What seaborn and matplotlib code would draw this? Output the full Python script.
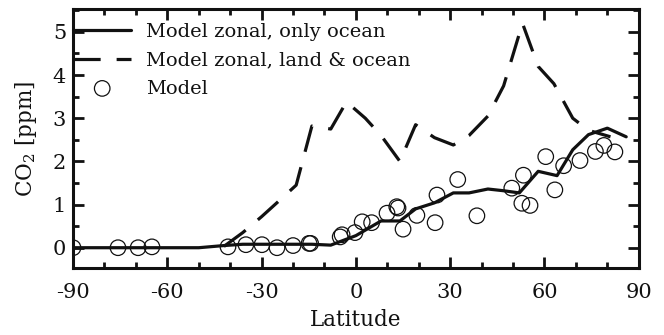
import matplotlib
matplotlib.use("Agg")
import matplotlib.pyplot as plt
import seaborn as sns
import pandas as pd
from matplotlib.ticker import MultipleLocator

# ---- data ----
ocean_lat = [-90, -50, -42, -36, -30, -25, -19, -14, -8, 0, 8, 14, 19, 25, 31, 36, 42, 47, 52, 58, 64, 69, 74, 80, 86]
ocean_co2 = [0.0, 0.0, 0.05, 0.08, 0.08, 0.08, 0.08, 0.08, 0.06, 0.28, 0.62, 0.62, 0.9, 1.04, 1.27, 1.27, 1.36, 1.32, 1.27, 1.77, 1.67, 2.27, 2.62, 2.77, 2.57]

land_lat = [-42, -36, -30, -25, -19, -14, -8, -3, 3, 8, 14, 19, 25, 31, 36, 42, 47, 53, 58, 63, 69, 74, 81]
land_co2 = [0.03, 0.35, 0.72, 1.05, 1.45, 2.82, 2.75, 3.38, 3.0, 2.6, 2.0, 2.85, 2.55, 2.38, 2.6, 3.05, 3.75, 5.2, 4.2, 3.8, 3.0, 2.72, 2.57]

model_lat = [-90, -75.7, -69.3, -64.9, -40.7, -35, -29.9, -25.1, -20, -14.9, -14.4,
             -5, -4.4, -0.3, 2, 5, 9.9, 13, 13.4, 15, 19.4, 25.2, 25.8, 32.4, 38.5,
             49.6, 53.3, 52.8, 55.4, 60.4, 63.3, 66.1, 71.3, 76.2, 78.9, 82.4]
model_co2 = [0.0, 0.0, 0.0, 0.02, 0.02, 0.07, 0.07, 0.0, 0.05, 0.1, 0.1,
             0.25, 0.3, 0.35, 0.6, 0.58, 0.8, 0.95, 0.92, 0.43, 0.75, 0.58, 1.22, 1.58, 0.74,
             1.38, 1.68, 1.03, 0.98, 2.11, 1.34, 1.9, 2.02, 2.23, 2.37, 2.22]

x_ticks = [-90, -60, -30, 0, 30, 60, 90]
y_ticks = [0, 1, 2, 3, 4, 5]

sns.set_style("ticks")
plt.rcParams['font.family'] = ['DejaVu Serif']
plt.rcParams['mathtext.fontset'] = 'dejavuserif'

fig = plt.figure(figsize=(6.64, 3.35), dpi=100)
ax = fig.add_axes([0.110, 0.200, 0.852, 0.773])

df_o = pd.DataFrame({"lat": ocean_lat, "co2": ocean_co2})
df_l = pd.DataFrame({"lat": land_lat, "co2": land_co2})
df_m = pd.DataFrame({"lat": model_lat, "co2": model_co2})

sns.lineplot(data=df_o, x="lat", y="co2", ax=ax, color="#111111", lw=2.3,
             sort=False, estimator=None, label="Model zonal, only ocean", zorder=3)
sns.lineplot(data=df_l, x="lat", y="co2", ax=ax, color="#111111", lw=2.3,
             sort=False, estimator=None, label="Model zonal, land & ocean",
             dashes=False, zorder=3)
ax.lines[-1].set_dashes((8.5, 5))
sns.scatterplot(data=df_m, x="lat", y="co2", ax=ax, marker="o", s=125,
                facecolors="none", edgecolor="#111111", linewidth=0.9,
                label="Model", zorder=4)

ax.set_xlim(-90, 90)
ax.set_ylim(-0.47, 5.53)
ax.set_xticks(x_ticks)
ax.set_xticklabels([str(t) for t in x_ticks])
ax.set_yticks(y_ticks)
ax.xaxis.set_minor_locator(MultipleLocator(10))
ax.yaxis.set_minor_locator(MultipleLocator(0.5))
ax.tick_params(which="both", direction="in", top=True, right=True, width=2,
               labelsize=15, colors="#111111")
ax.tick_params(axis="x", which="both", pad=11)
ax.tick_params(axis="y", which="both", pad=5)
ax.tick_params(which="major", length=8)
ax.tick_params(which="minor", length=4.5)
for s in ax.spines.values():
    s.set_linewidth(2.2)
    s.set_color("#111111")

ax.set_xlabel("Latitude", fontsize=15.5, labelpad=5, color="#111111")
ax.set_ylabel(r"CO$_2$ [ppm]", fontsize=15.5, labelpad=10, color="#111111")

leg = ax.legend(loc="upper left", bbox_to_anchor=(0.0, 0.945), frameon=False,
                fontsize=14, handlelength=3.0, handletextpad=0.75,
                labelspacing=0.52, borderaxespad=0, borderpad=0)
for t in leg.get_texts():
    t.set_color("#111111")

fig.savefig("out.png", dpi=100)
